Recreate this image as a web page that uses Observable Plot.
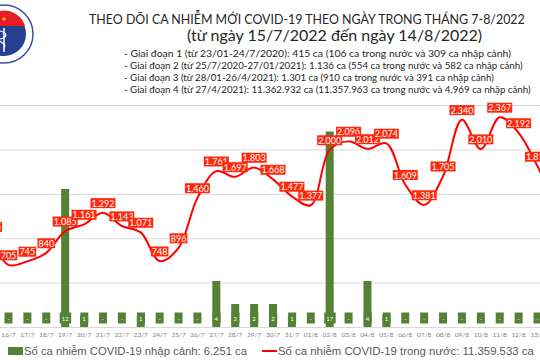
<!DOCTYPE html>
<html><head><meta charset="utf-8">
<script src="https://cdn.jsdelivr.net/npm/d3@7"></script>
<script src="https://cdn.jsdelivr.net/npm/@observablehq/plot@0.6"></script>
<style>
html,body{margin:0;padding:0;background:#fff;}
#wrap{position:relative;width:540px;height:360px;overflow:hidden;font-family:Lato,sans-serif;}
.t{position:absolute;white-space:nowrap;color:#262626;}
#title{left:89px;top:13px;font-size:12px;line-height:14px;}
#sub{left:187px;top:27px;font-size:15px;line-height:16px;}
.b{left:124px;font-size:10.5px;line-height:12px;}
#chart{position:absolute;left:0;top:95px;}
.leg{position:absolute;top:343px;font-family:"Liberation Sans",Arial,sans-serif;font-size:11px;line-height:17px;color:#595959;white-space:nowrap;}
</style></head><body><div id="wrap">
<svg style="position:absolute;left:0;top:0" width="40" height="70">
  <circle cx="4" cy="34" r="29" fill="#fff" stroke="#3b4f9f" stroke-width="1.5"/>
  <circle cx="4" cy="34" r="22" fill="#24408e"/>
  <path d="M-17,26 A22,22 0 0 1 25,26 Z" fill="#e31e24"/>
  <circle cx="4" cy="19" r="1.5" fill="#ffd800"/>
  <line x1="4" y1="28" x2="4" y2="52" stroke="#fff" stroke-width="1.5"/>
  <path d="M0,31 C8,33 8,37 0,39 C-4,41 8,44 4,47" fill="none" stroke="#fff" stroke-width="1.2"/>
</svg>
<div class="t" id="title" data-w="436">THEO DÕI CA NHIỄM MỚI COVID-19 THEO NGÀY TRONG THÁNG 7-8/2022</div>
<div class="t" id="sub" data-w="295">(từ ngày 15/7/2022 đến ngày 14/8/2022)</div>
<div class="t b" style="top:47px" data-w="387">- Giai đoạn 1 (từ 23/01-24/7/2020): 415 ca (106 ca trong nước và 309 ca nhập cảnh)</div>
<div class="t b" style="top:59px" data-w="399">- Giai đoạn 2 (từ 25/7/2020-27/01/2021): 1.136 ca (554 ca trong nước và 582 ca nhập cảnh)</div>
<div class="t b" style="top:71px" data-w="370">- Giai đoạn 3 (từ 28/01-26/4/2021): 1.301 ca (910 ca trong nước và 391 ca nhập cảnh)</div>
<div class="t b" style="top:83px" data-w="407">- Giai đoạn 4 (từ 27/4/2021): 11.362.932 ca (11.357.963 ca trong nước và 4.969 ca nhập cảnh)</div>
<div id="chart"></div>
<div style="position:absolute;left:8px;top:347px;width:15px;height:8px;background:#548235"></div>
<div class="leg" style="left:24px" data-w="223">Số ca nhiễm COVID-19 nhập cảnh: 6.251 ca</div>
<div style="position:absolute;left:262px;top:350px;width:15px;height:2px;background:#ff0000"></div>
<div class="leg" style="left:278px" data-w="256">Số ca nhiễm COVID-19 trong nước: 11.359.533 ca</div>
</div>
<script>
const dates = ["15/7","16/7","17/7","18/7","19/7","20/7","21/7","22/7","23/7","24/7","25/7","26/7","27/7","28/7","29/7","30/7","31/7",
  "01/8","02/8","03/8","04/8","05/8","06/8","07/8","08/8","09/8","10/8","11/8","12/8","13/8","14/8"];
const domestic = [1025,705,745,840,1085,1161,1292,1143,1071,748,896,1460,1761,1697,1803,1668,1477,
  1377,2000,2096,2012,2074,1609,1381,1705,2340,2010,2367,2192,1815,1360];
const imported = [0,0,0,0,12,1,0,0,1,0,0,0,4,2,2,2,1,
  0,17,0,4,1,0,0,0,0,0,0,0,0,0];
const gridTicks = [0,500,1000,1500,2000,2500];

// fit header/legend text to the widths measured on the reference
document.querySelectorAll("[data-w]").forEach(el => {
  const target = +el.dataset.w;
  const fs = parseFloat(getComputedStyle(el).fontSize);
  const w = el.getBoundingClientRect().width;
  if (w > 0) el.style.fontSize = (fs * target / w).toFixed(2) + "px";
});

const loc = d3.formatLocale({decimal: ",", thousands: ".", grouping: [3], currency: ["", ""]});
const fmt = loc.format(",");
const rows = dates.map((d, i) => ({date: d, dom: domestic[i], imp: imported[i]}));
const yMax = 2500, barMax = 19.3, k = yMax / barMax;

const chart = Plot.plot({
  width: 540, height: 248, marginTop: 10, marginBottom: 16, marginLeft: 0, marginRight: 0,
  style: {background: "transparent", overflow: "hidden", fontFamily: "Lato, sans-serif"},
  x: {type: "point", domain: dates, range: [-10.9, 555.9], padding: 0, round: false},
  y: {domain: [0, yMax], axis: null},
  marks: [
    Plot.gridY(gridTicks, {stroke: "#d9d9d9", strokeOpacity: 1}),
    Plot.ruleX(rows, {x: "date", y1: 0, y2: d => d.imp * k, stroke: "#548235", strokeWidth: 8}),
    Plot.line(rows, {x: "date", y: "dom", stroke: "#ff0000", strokeWidth: 2, curve: "catmull-rom"}),
    Plot.text(rows, {x: "date", frameAnchor: "bottom", dy: -7, text: d => d.imp ? String(d.imp) : "-", fill: "white", fontSize: 6}),
    Plot.text(rows, {x: "date", y: "dom", dy: -9, text: d => fmt(d.dom), fill: "white", fontSize: 9}),
    Plot.axisX({tickSize: 0, tickPadding: 5, fontSize: 6.5, fill: "#7f7f7f", label: null})
  ]
});
document.getElementById("chart").appendChild(chart);

function boxes(group, fill, padX, minW, h) {
  group.querySelectorAll("text").forEach(t => {
    const b = t.getBBox();
    const w = Math.max(minW, b.width + 2 * padX);
    const r = document.createElementNS("http://www.w3.org/2000/svg", "rect");
    r.setAttribute("x", b.x + b.width / 2 - w / 2);
    r.setAttribute("y", b.y + b.height / 2 - h / 2);
    r.setAttribute("width", w);
    r.setAttribute("height", h);
    r.setAttribute("fill", fill);
    const tr = t.getAttribute("transform");
    if (tr) r.setAttribute("transform", tr);
    t.parentNode.insertBefore(r, t);
  });
}
const textGroups = chart.querySelectorAll('g[aria-label="text"]');
boxes(textGroups[0], "#548235", 2, 8, 11);
boxes(textGroups[1], "#ff2a0d", 1, 0, 10);
</script></body></html>
